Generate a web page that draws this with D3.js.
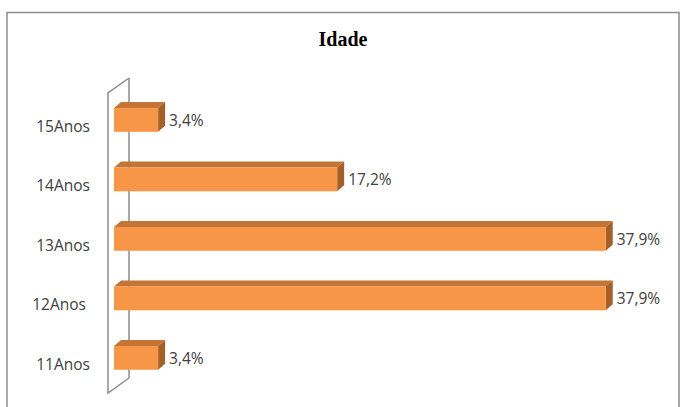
<!DOCTYPE html>
<html>
<head>
<meta charset="utf-8">
<script src="https://cdn.jsdelivr.net/npm/d3@7"></script>
<style>
  body { margin: 0; background: #fff; }
  svg { display: block; }
</style>
</head>
<body>
<div id="chart"></div>
<script>
// data
var categories = ["15Anos", "14Anos", "13Anos", "12Anos ", "11Anos"];
var values = [3.4, 17.2, 37.9, 37.9, 3.4];
var valueLabels = ["3,4%", "17,2%", "37,9%", "37,9%", "3,4%"];
var title = "Idade";

var width = 680, height = 407;
var depthX = 7, depthY = -6;   // 3d bar depth
var wallX = 21, wallY = -15;   // 3d wall depth

var svg = d3.select("#chart")
    .append("svg")
    .attr("width", width)
    .attr("height", height);

// outer frame (bottom edge falls outside the picture)
svg.append("rect")
    .attr("x", 7).attr("y", 12.5)
    .attr("width", 672).attr("height", 420)
    .attr("fill", "none")
    .attr("stroke", "#8c8c8c")
    .attr("stroke-width", 1.5);

svg.append("text")
    .attr("x", 343).attr("y", 46)
    .attr("text-anchor", "middle")
    .style("font-family", "'Liberation Serif', 'Times New Roman', serif")
    .style("font-weight", "bold")
    .style("font-size", "20px")
    .attr("fill", "#000")
    .text(title);

var x = d3.scaleLinear().domain([0, 40]).range([114, 633]);
var y = d3.scaleBand().domain(categories)
    .range([90.2, 387.6])
    .paddingInner(0.6)
    .paddingOuter(0.3);

// side wall
var wallFront = 108, wallTop = 93, wallBottom = 393;
var wall = svg.append("g")
    .attr("fill", "none")
    .attr("stroke", "#8c8c8c")
    .attr("stroke-width", 1.5);
wall.append("path")
    .attr("d", "M" + (wallFront + wallX) + "," + (wallTop + wallY) +
        "V" + (wallBottom + wallY));
wall.append("path")
    .attr("d", "M" + (wallFront + wallX) + "," + (wallTop + wallY) +
        "L" + wallFront + "," + wallTop +
        "V" + wallBottom +
        "L" + (wallFront + wallX) + "," + (wallBottom + wallY));

// bars
var bars = svg.append("g").selectAll("g")
    .data(categories)
    .enter().append("g");

bars.append("path")
    .attr("fill", "#c47536")
    .attr("d", function (d, i) {
        var x0 = x(0), x1 = x(values[i]), t = y(d);
        return "M" + x0 + "," + t + "L" + (x0 + depthX) + "," + (t + depthY) +
            "L" + (x1 + depthX) + "," + (t + depthY) + "L" + x1 + "," + t + "Z";
    });

bars.append("path")
    .attr("fill", "#a4602b")
    .attr("d", function (d, i) {
        var x1 = x(values[i]), t = y(d), b = t + y.bandwidth();
        return "M" + x1 + "," + t + "L" + (x1 + depthX) + "," + (t + depthY) +
            "L" + (x1 + depthX) + "," + (b + depthY) + "L" + x1 + "," + b + "Z";
    });

bars.append("rect")
    .attr("fill", "#f79646")
    .attr("x", x(0))
    .attr("y", function (d) { return y(d); })
    .attr("width", function (d, i) { return x(values[i]) - x(0); })
    .attr("height", y.bandwidth());

// value labels
bars.append("text")
    .attr("x", function (d, i) { return x(values[i]) + depthX + 4; })
    .attr("y", function (d) { return y(d) + y.bandwidth() / 2 + 6; })
    .style("font-family", "'Open Sans', sans-serif")
    .style("font-size", "15.5px")
    .attr("fill", "#404040")
    .text(function (d, i) { return valueLabels[i]; });

// category labels
svg.append("g").selectAll("text")
    .data(categories)
    .enter().append("text")
    .attr("x", 90)
    .attr("y", function (d) { return y(d) + y.bandwidth() / 2 + 12; })
    .attr("text-anchor", "end")
    .style("white-space", "pre")
    .style("font-family", "'Open Sans', sans-serif")
    .style("font-size", "15.5px")
    .attr("fill", "#404040")
    .text(function (d) { return d; });
</script>
</body>
</html>
